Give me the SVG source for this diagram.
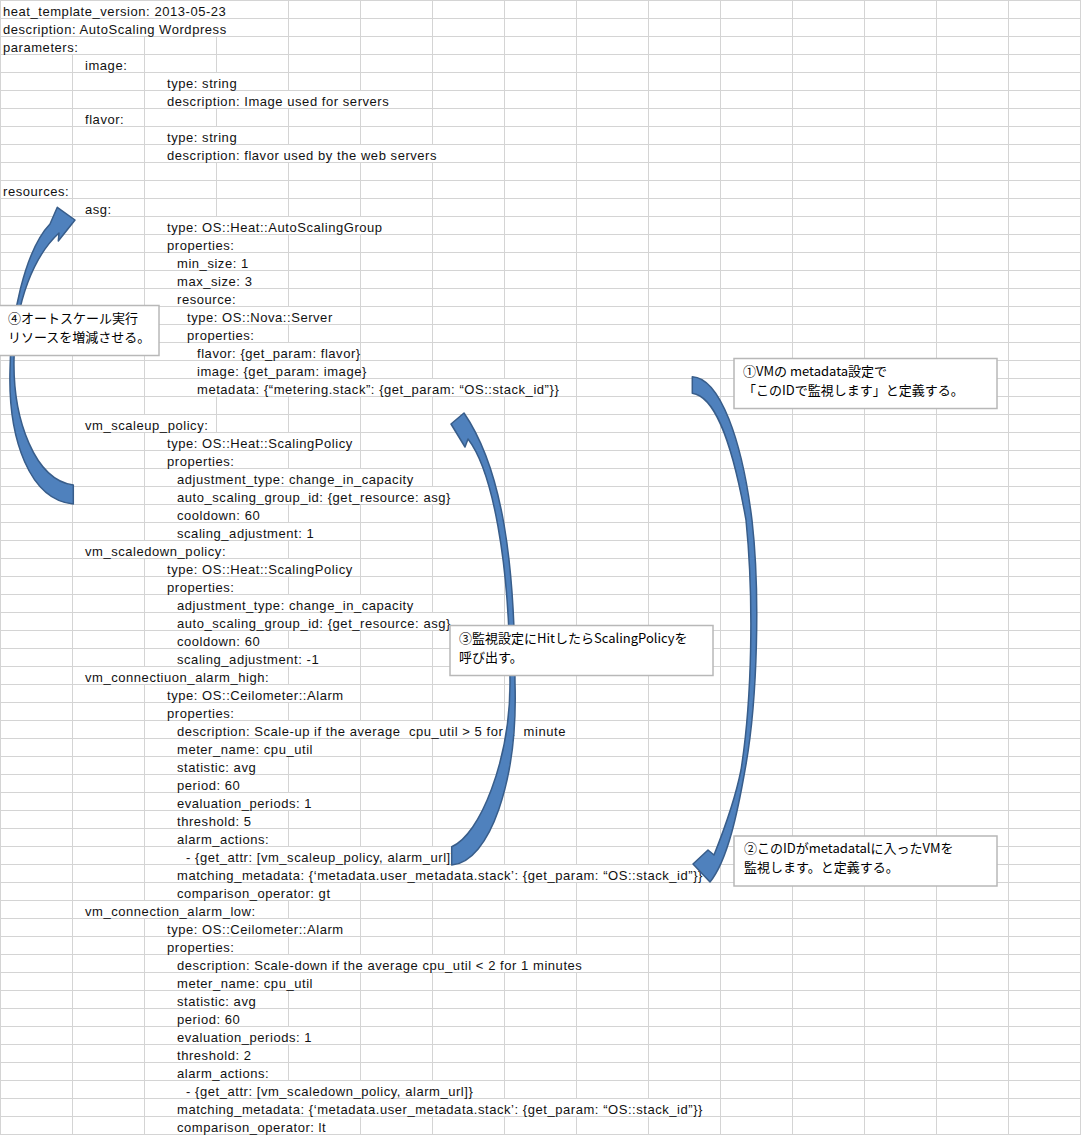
<svg xmlns="http://www.w3.org/2000/svg" width="1081" height="1135" viewBox="0 0 1081 1135">
<style>
.g{stroke:#d4d4d4;stroke-width:1;fill:none}
.m{fill:#fff}
.t{font-family:"Liberation Sans",Arial,sans-serif;font-size:13px;letter-spacing:0.55px;fill:#111}
.arrow{fill:#4f81bd;stroke:#385d8a;stroke-width:1.5;stroke-linejoin:round}
.box{fill:#fff;stroke:#b8b8b8;stroke-width:1.5}
.c{font-family:"Noto Sans CJK JP","Noto Sans",sans-serif;font-size:13px;fill:#000}
</style>
<rect width="1081" height="1135" fill="#fff"/>
<g id="grid">
<path class="g" d="M0.5,0V1135M72.5,0V1135M144.5,0V1135M216.5,0V1135M288.5,0V1135M360.5,0V1135M432.5,0V1135M504.5,0V1135M576.5,0V1135M648.5,0V1135M720.5,0V1135M792.5,0V1135M864.5,0V1135M936.5,0V1135M1008.5,0V1135M1080.5,0V1135"/>
<path class="g" d="M0,0.5H1081M0,18.5H1081M0,36.5H1081M0,54.5H1081M0,72.5H1081M0,90.5H1081M0,108.5H1081M0,126.5H1081M0,144.5H1081M0,162.5H1081M0,180.5H1081M0,198.5H1081M0,216.5H1081M0,234.5H1081M0,252.5H1081M0,270.5H1081M0,288.5H1081M0,306.5H1081M0,324.5H1081M0,342.5H1081M0,360.5H1081M0,378.5H1081M0,396.5H1081M0,414.5H1081M0,432.5H1081M0,450.5H1081M0,468.5H1081M0,486.5H1081M0,504.5H1081M0,522.5H1081M0,540.5H1081M0,558.5H1081M0,576.5H1081M0,594.5H1081M0,612.5H1081M0,630.5H1081M0,648.5H1081M0,666.5H1081M0,684.5H1081M0,702.5H1081M0,720.5H1081M0,738.5H1081M0,756.5H1081M0,774.5H1081M0,792.5H1081M0,810.5H1081M0,828.5H1081M0,846.5H1081M0,864.5H1081M0,882.5H1081M0,900.5H1081M0,918.5H1081M0,936.5H1081M0,954.5H1081M0,972.5H1081M0,990.5H1081M0,1008.5H1081M0,1026.5H1081M0,1044.5H1081M0,1062.5H1081M0,1080.5H1081M0,1098.5H1081M0,1116.5H1081M0,1134.5H1081"/>
<g id="overflow">
<rect class="m" x="1" y="1" width="287" height="17"/>
<rect class="m" x="1" y="19" width="287" height="17"/>
<rect class="m" x="1" y="37" width="143" height="17"/>
<rect class="m" x="145" y="73" width="143" height="17"/>
<rect class="m" x="145" y="91" width="287" height="17"/>
<rect class="m" x="145" y="127" width="143" height="17"/>
<rect class="m" x="145" y="145" width="359" height="17"/>
<rect class="m" x="145" y="217" width="287" height="17"/>
<rect class="m" x="145" y="235" width="143" height="17"/>
<rect class="m" x="145" y="253" width="143" height="17"/>
<rect class="m" x="145" y="271" width="143" height="17"/>
<rect class="m" x="145" y="289" width="143" height="17"/>
<rect class="m" x="145" y="307" width="215" height="17"/>
<rect class="m" x="145" y="325" width="143" height="17"/>
<rect class="m" x="145" y="343" width="215" height="17"/>
<rect class="m" x="145" y="361" width="215" height="17"/>
<rect class="m" x="145" y="379" width="431" height="17"/>
<rect class="m" x="73" y="415" width="143" height="17"/>
<rect class="m" x="145" y="433" width="215" height="17"/>
<rect class="m" x="145" y="451" width="143" height="17"/>
<rect class="m" x="145" y="469" width="287" height="17"/>
<rect class="m" x="145" y="487" width="359" height="17"/>
<rect class="m" x="145" y="505" width="143" height="17"/>
<rect class="m" x="145" y="523" width="215" height="17"/>
<rect class="m" x="73" y="541" width="215" height="17"/>
<rect class="m" x="145" y="559" width="215" height="17"/>
<rect class="m" x="145" y="577" width="143" height="17"/>
<rect class="m" x="145" y="595" width="287" height="17"/>
<rect class="m" x="145" y="613" width="359" height="17"/>
<rect class="m" x="145" y="631" width="143" height="17"/>
<rect class="m" x="145" y="649" width="215" height="17"/>
<rect class="m" x="73" y="667" width="215" height="17"/>
<rect class="m" x="145" y="685" width="215" height="17"/>
<rect class="m" x="145" y="703" width="143" height="17"/>
<rect class="m" x="145" y="721" width="431" height="17"/>
<rect class="m" x="145" y="739" width="215" height="17"/>
<rect class="m" x="145" y="757" width="143" height="17"/>
<rect class="m" x="145" y="775" width="143" height="17"/>
<rect class="m" x="145" y="793" width="215" height="17"/>
<rect class="m" x="145" y="811" width="143" height="17"/>
<rect class="m" x="145" y="829" width="143" height="17"/>
<rect class="m" x="145" y="847" width="359" height="17"/>
<rect class="m" x="145" y="865" width="575" height="17"/>
<rect class="m" x="145" y="883" width="215" height="17"/>
<rect class="m" x="73" y="901" width="215" height="17"/>
<rect class="m" x="145" y="919" width="215" height="17"/>
<rect class="m" x="145" y="937" width="143" height="17"/>
<rect class="m" x="145" y="955" width="503" height="17"/>
<rect class="m" x="145" y="973" width="215" height="17"/>
<rect class="m" x="145" y="991" width="143" height="17"/>
<rect class="m" x="145" y="1009" width="143" height="17"/>
<rect class="m" x="145" y="1027" width="215" height="17"/>
<rect class="m" x="145" y="1045" width="143" height="17"/>
<rect class="m" x="145" y="1063" width="143" height="17"/>
<rect class="m" x="145" y="1081" width="359" height="17"/>
<rect class="m" x="145" y="1099" width="575" height="17"/>
<rect class="m" x="145" y="1117" width="215" height="17"/>
</g>
</g>
<g id="code" class="t">
<text x="3" y="16">heat_template_version: 2013-05-23</text>
<text x="3" y="34">description: AutoScaling Wordpress</text>
<text x="3" y="52">parameters:</text>
<text x="85" y="70">image:</text>
<text x="167" y="88">type: string</text>
<text x="167" y="106">description: Image used for servers</text>
<text x="85" y="124">flavor:</text>
<text x="167" y="142">type: string</text>
<text x="167" y="160">description: flavor used by the web servers</text>
<text x="3" y="196">resources:</text>
<text x="85" y="214">asg:</text>
<text x="167" y="232">type: OS::Heat::AutoScalingGroup</text>
<text x="167" y="250">properties:</text>
<text x="177" y="268">min_size: 1</text>
<text x="177" y="286">max_size: 3</text>
<text x="177" y="304">resource:</text>
<text x="187" y="322">type: OS::Nova::Server</text>
<text x="187" y="340">properties:</text>
<text x="197" y="358">flavor: {get_param: flavor}</text>
<text x="197" y="376">image: {get_param: image}</text>
<text x="197" y="394">metadata: {“metering.stack”: {get_param: “OS::stack_id”}}</text>
<text x="85" y="430">vm_scaleup_policy:</text>
<text x="167" y="448">type: OS::Heat::ScalingPolicy</text>
<text x="167" y="466">properties:</text>
<text x="177" y="484">adjustment_type: change_in_capacity</text>
<text x="177" y="502">auto_scaling_group_id: {get_resource: asg}</text>
<text x="177" y="520">cooldown: 60</text>
<text x="177" y="538">scaling_adjustment: 1</text>
<text x="85" y="556">vm_scaledown_policy:</text>
<text x="167" y="574">type: OS::Heat::ScalingPolicy</text>
<text x="167" y="592">properties:</text>
<text x="177" y="610">adjustment_type: change_in_capacity</text>
<text x="177" y="628">auto_scaling_group_id: {get_resource: asg}</text>
<text x="177" y="646">cooldown: 60</text>
<text x="177" y="664">scaling_adjustment: -1</text>
<text x="85" y="682">vm_connectiuon_alarm_high:</text>
<text x="167" y="700">type: OS::Ceilometer::Alarm</text>
<text x="167" y="718">properties:</text>
<text x="177" y="736" xml:space="preserve">description: Scale-up if the average  cpu_util &gt; 5 for 1  minute</text>
<text x="177" y="754">meter_name: cpu_util</text>
<text x="177" y="772">statistic: avg</text>
<text x="177" y="790">period: 60</text>
<text x="177" y="808">evaluation_periods: 1</text>
<text x="177" y="826">threshold: 5</text>
<text x="177" y="844">alarm_actions:</text>
<text x="186" y="862">- {get_attr: [vm_scaleup_policy, alarm_url]}</text>
<text x="177" y="880">matching_metadata: {‘metadata.user_metadata.stack’: {get_param: “OS::stack_id”}}</text>
<text x="177" y="898">comparison_operator: gt</text>
<text x="85" y="916">vm_connection_alarm_low:</text>
<text x="167" y="934">type: OS::Ceilometer::Alarm</text>
<text x="167" y="952">properties:</text>
<text x="177" y="970">description: Scale-down if the average cpu_util &lt; 2 for 1 minutes</text>
<text x="177" y="988">meter_name: cpu_util</text>
<text x="177" y="1006">statistic: avg</text>
<text x="177" y="1024">period: 60</text>
<text x="177" y="1042">evaluation_periods: 1</text>
<text x="177" y="1060">threshold: 2</text>
<text x="177" y="1078">alarm_actions:</text>
<text x="186" y="1096">- {get_attr: [vm_scaledown_policy, alarm_url]}</text>
<text x="177" y="1114">matching_metadata: {‘metadata.user_metadata.stack’: {get_param: “OS::stack_id”}}</text>
<text x="177" y="1132">comparison_operator: lt</text>
</g>
<g id="connectors">
<path id="arrow4" class="arrow" d="M73.3,504 C30,500 8,440 10,370 C10,320 25,250 50,224 L57.3,207.3 L75,220 L58.3,241 L59,233 C35,255 15,300 14,360 C13,420 35,480 73.3,485 Z"/>
<path id="arrow3" class="arrow" d="M451.7,865 C490,862 518,780 515,683 C515,565 503,470 464,413 L451,424 L465,447 L468,439 C492,470 510,560 510,683 C510,760 480,835 451.7,846.7 Z"/>
<path id="arrow12" class="arrow" d="M692.3,376.7 C720,378 742,440 752,520 C760,590 758,700 745,770 C738,810 728,860 710,882 L693,864 L708,850 L714,855 C722,835 735,800 741,770 C752,700 754,600 746,520 C730,430 712,396 692.3,393.3 Z"/>
</g>
<g id="note1">
<rect class="box" x="734" y="358.5" width="263" height="50"/>
<text class="c" x="743" y="375.5">①VMの metadata設定で</text>
<text class="c" x="743" y="394.5">「このIDで監視します」と定義する。</text>
</g>
<g id="note2">
<rect class="box" x="734" y="836" width="263" height="50"/>
<text class="c" x="744" y="853">②このIDがmetadatalに入ったVMを</text>
<text class="c" x="744" y="872">監視します。と定義する。</text>
</g>
<g id="note3">
<rect class="box" x="450" y="625.5" width="263" height="50"/>
<text class="c" x="459" y="642.5">③監視設定にHitしたらScalingPolicyを</text>
<text class="c" x="459" y="661.5">呼び出す。</text>
</g>
<g id="note4">
<rect class="box" x="-1" y="305.5" width="160" height="50"/>
<text class="c" x="8" y="322.5">④オートスケール実行</text>
<text class="c" x="8" y="341.5">リソースを増減させる。</text>
</g>
</svg>
